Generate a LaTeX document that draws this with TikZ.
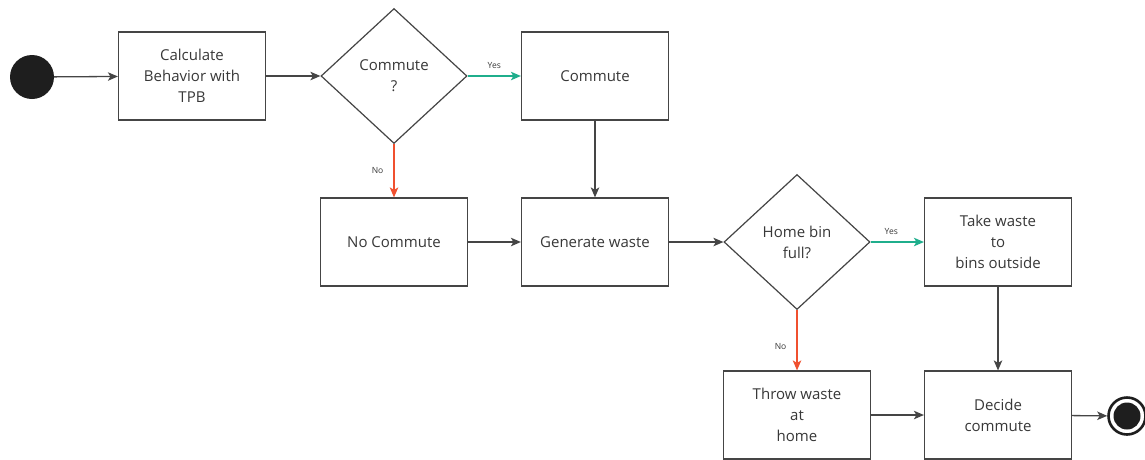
\documentclass[tikz,border=0pt]{standalone}
\usepackage{fontspec}
\setmainfont{Open Sans}
\usetikzlibrary{shapes.geometric,arrows.meta}
\definecolor{lineC}{HTML}{454545}
\definecolor{textC}{HTML}{383838}
\definecolor{yesC}{HTML}{1FAE8C}
\definecolor{noC}{HTML}{F0502F}
\definecolor{dotC}{HTML}{1E1E1E}
\tikzset{
  box/.style={rectangle, draw=lineC, line width=1.2pt, minimum width=147pt, minimum height=88pt,
    inner sep=0pt, align=center, text=textC, font=\fontsize{15}{21}\selectfont},
  decision/.style={diamond, draw=lineC, line width=1.2pt, minimum width=146pt, minimum height=135pt,
    inner sep=0pt, align=center, text=textC, font=\fontsize{15}{21}\selectfont},
  flow/.style={draw=lineC, line width=1.3pt, -{Stealth[length=10pt,width=8.5pt,inset=2.5pt]}},
  yesflow/.style={flow, draw=yesC, -{Stealth[length=10pt,width=8.5pt,inset=2.5pt,fill=yesC]}},
  noflow/.style={flow, draw=noC, -{Stealth[length=10pt,width=8.5pt,inset=2.5pt,fill=noC]}},
  lbl/.style={font=\fontsize{8.5}{10}\selectfont, text=textC, inner sep=1pt},
}
\begin{document}
\begin{tikzpicture}[x=1pt,y=-1pt]
\useasboundingbox (0,0) rectangle (1145,459);
\fill[white] (0,0) rectangle (1145,459);

\node[circle, fill=dotC, minimum size=44pt, inner sep=0pt] (start) at (32,77) {};
\node[box] (calc) at (192,76) {Calculate\\Behavior with\\TPB};
\node[decision] (d1) at (394,76) {Commute\\?};
\node[box] (commute) at (595,76) {Commute};
\node[box] (nocomm) at (394,242) {No Commute};
\node[box] (gen) at (595,242) {Generate waste};
\node[decision] (d2) at (797,242) {Home bin\\full?};
\node[box] (take) at (998,242) {Take waste\\to\\bins outside};
\node[box] (throw) at (797,415) {Throw waste\\at\\home};
\node[box] (decide) at (998,415) {Decide\\commute};
\node[circle, draw=dotC, fill=white, line width=2.6pt, minimum size=37pt, inner sep=0pt] (end) at (1127,416) {};
\node[circle, fill=dotC, minimum size=27pt, inner sep=0pt] (endin) at (end.center) {};

\draw[flow] (start) -- (calc);
\draw[flow] (calc) -- (d1);
\draw[yesflow] (d1.east) -- node[lbl, above=6pt] {Yes} (commute);
\draw[noflow] (d1.south) -- node[lbl, left=9pt] {No} (nocomm);
\draw[flow] (commute) -- (gen);
\draw[flow] (nocomm) -- (gen);
\draw[flow] (gen) -- (d2);
\draw[yesflow] (d2.east) -- node[lbl, above=6pt, xshift=-6pt] {Yes} (take);
\draw[noflow] (d2.south) -- node[lbl, left=9pt, yshift=-6pt] {No} (throw);
\draw[flow] (take) -- (decide);
\draw[flow] (throw) -- (decide);
\draw[flow] (decide) -- (end);
\end{tikzpicture}
\end{document}
